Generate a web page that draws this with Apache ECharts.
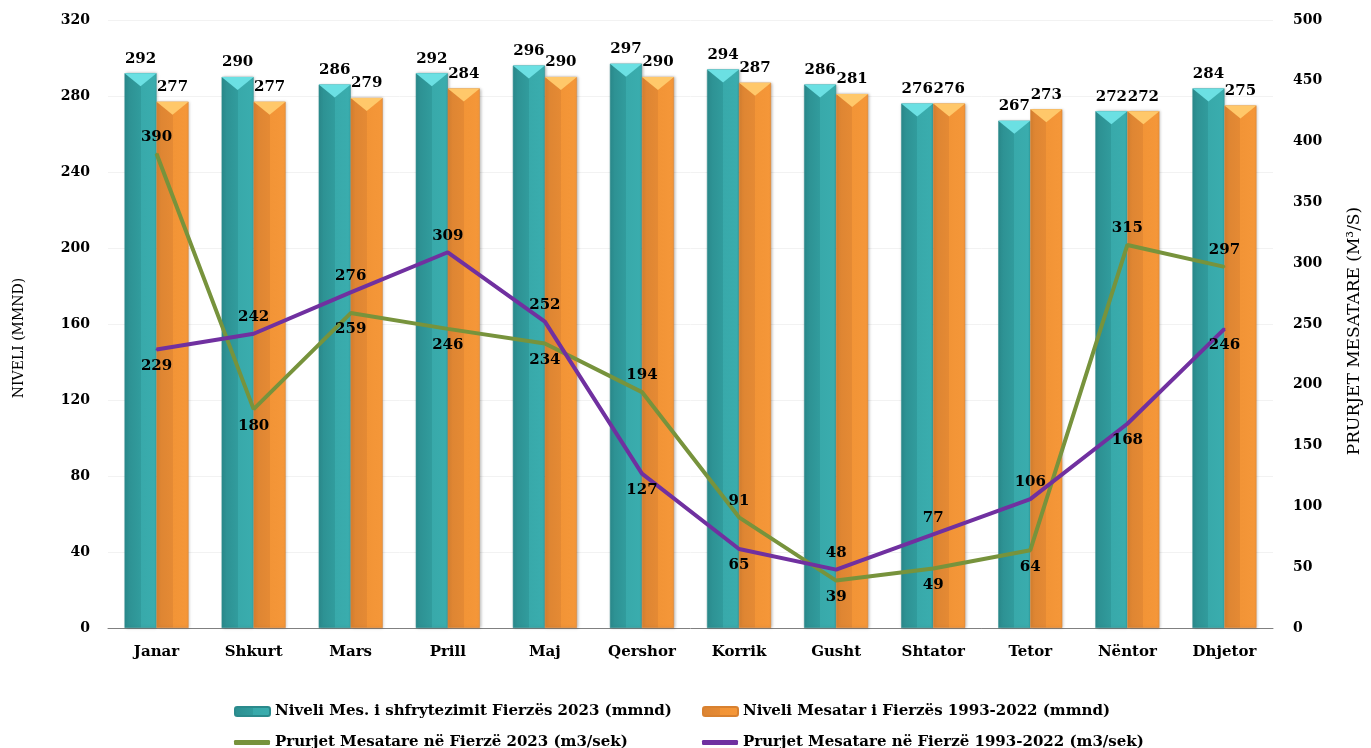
<!DOCTYPE html>
<html><head><meta charset="utf-8">
<script src="https://cdn.jsdelivr.net/npm/echarts@6/dist/echarts.min.js"></script>
<style>html,body{margin:0;padding:0;background:#fff}#c{width:1371px;height:748px}</style>
</head><body><div id="c"></div>
<script>
const categories = ['Janar','Shkurt','Mars','Prill','Maj','Qershor','Korrik','Gusht','Shtator','Tetor','Nëntor','Dhjetor'];
const niveli2023 = [292,290,286,292,296,297,294,286,276,267,272,284];
const niveliMesatar = [277,277,279,284,290,290,287,281,276,273,272,275];
const prurjet2023 = [390,180,259,246,234,194,91,39,49,64,315,297];
const prurjetMesatare = [229,242,276,309,252,127,65,48,77,106,168,246];
const leftTicks = {min:0, max:320, interval:40};
const rightTicks = {min:0, max:500, interval:50};
const names = ['Niveli Mes. i shfrytezimit Fierzës 2023 (mmnd)','Niveli Mesatar i Fierzës 1993-2022 (mmnd)','Prurjet Mesatare në Fierzë 2023 (m3/sek)','Prurjet Mesatare në Fierzë 1993-2022 (m3/sek)'];

const FONT = '"DejaVu Serif", serif';
const teal = {type:'linear',x:0,y:0,x2:1,y2:0,colorStops:[{offset:0,color:'#2c8e90'},{offset:0.5,color:'#319c9d'},{offset:0.5,color:'#38a9aa'},{offset:1,color:'#3aadae'}]};
const orange = {type:'linear',x:0,y:0,x2:1,y2:0,colorStops:[{offset:0,color:'#dc8432'},{offset:0.5,color:'#e58a34'},{offset:0.5,color:'#f29436'},{offset:1,color:'#f59739'}]};
const green = '#77933c', purple = '#7030a0';
const capPath = 'path://M0,0 L10,0 L5,4 Z';

function lineData(vals, other){
  return vals.map((v,i)=>({value:v, label:{position: v>=other[i] ? 'top' : 'bottom'}}));
}
const labelStyle = {show:true, color:'#000', fontFamily:FONT, fontWeight:'bold', fontSize:15};
const legText = {fontFamily:FONT,fontWeight:'bold',fontSize:15,color:'#000'};

const chart = echarts.init(document.getElementById('c'));
chart.setOption({
  animation:false,
  grid:{left:108, right:93, top:20, bottom:120},
  legend:[
    {data:[names[0]], left:229, top:699, itemWidth:35, itemHeight:9, itemGap:0, textStyle:legText},
    {data:[names[1]], left:697, top:699, itemWidth:35, itemHeight:9, itemGap:0, textStyle:legText},
    {data:[names[2]], left:229, top:730, itemWidth:36, itemHeight:5, itemGap:0, icon:'roundRect', textStyle:legText},
    {data:[names[3]], left:697, top:730, itemWidth:36, itemHeight:5, itemGap:0, icon:'roundRect', textStyle:legText}
  ],
  xAxis:{type:'category', data:categories,
    axisLine:{lineStyle:{color:'#808080',width:1}}, axisTick:{show:false},
    axisLabel:{color:'#000',fontFamily:FONT,fontWeight:'bold',fontSize:15,margin:17}},
  yAxis:[
    {type:'value', min:leftTicks.min, max:leftTicks.max, interval:leftTicks.interval,
     name:'NIVELI (MMND)', nameLocation:'middle', nameGap:82, nameRotate:90,
     nameTextStyle:{color:'#000',fontFamily:FONT,fontWeight:'normal',fontSize:14,padding:[0,28,0,0]},
     axisLine:{show:false}, axisTick:{show:false},
     axisLabel:{color:'#000',fontFamily:FONT,fontWeight:'bold',fontSize:14,margin:18},
     splitLine:{lineStyle:{color:'#f2f2f2'}}},
    {type:'value', min:rightTicks.min, max:rightTicks.max, interval:rightTicks.interval,
     name:'PRURJET MESATARE (M³/S)', nameLocation:'middle', nameGap:73, nameRotate:90,
     nameTextStyle:{color:'#000',fontFamily:FONT,fontWeight:'normal',fontSize:17,padding:[0,14,0,0]},
     axisLine:{show:false}, axisTick:{show:false},
     axisLabel:{color:'#000',fontFamily:FONT,fontWeight:'bold',fontSize:14,margin:20},
     splitLine:{show:false}}
  ],
  series:[
    {name:names[0], type:'bar', data:niveli2023, barWidth:32, barGap:'0%',
     itemStyle:{color:teal, borderColor:'#2b8a8c', borderWidth:0.5, shadowColor:'rgba(0,0,0,0.25)', shadowBlur:3, shadowOffsetX:1},
     label:Object.assign({}, labelStyle, {position:'top', distance:7})},
    {name:names[1], type:'bar', data:niveliMesatar, barWidth:32, barGap:'0%',
     itemStyle:{color:orange, borderColor:'#d88130', borderWidth:0.5, shadowColor:'rgba(0,0,0,0.25)', shadowBlur:3, shadowOffsetX:1},
     label:Object.assign({}, labelStyle, {position:'top', distance:7})},
    {type:'pictorialBar', data:niveli2023, barWidth:32, barGap:'0%', symbol:capPath, symbolSize:[32,13],
     symbolPosition:'end', symbolOffset:[0,0], itemStyle:{color:'#6be0e3'}, z:3, silent:true},
    {type:'pictorialBar', data:niveliMesatar, barWidth:32, barGap:'0%', symbol:capPath, symbolSize:[32,13],
     symbolPosition:'end', symbolOffset:[0,0], itemStyle:{color:'#ffc86a'}, z:3, silent:true},
    {name:names[2], type:'line', yAxisIndex:1, data:lineData(prurjet2023, prurjetMesatare),
     symbol:'circle', symbolSize:2, showSymbol:true, lineStyle:{color:green,width:4}, itemStyle:{color:green}, z:5,
     label:Object.assign({}, labelStyle, {distance:8})},
    {name:names[3], type:'line', yAxisIndex:1, data:lineData(prurjetMesatare, prurjet2023),
     symbol:'circle', symbolSize:2, showSymbol:true, lineStyle:{color:purple,width:4}, itemStyle:{color:purple}, z:5,
     label:Object.assign({}, labelStyle, {distance:8})}
  ]
});
</script></body></html>
